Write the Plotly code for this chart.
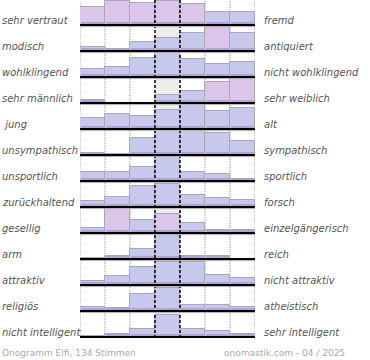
import plotly.graph_objects as go

left_labels = ["sehr vertraut", "modisch", "wohlklingend", "sehr männlich", " jung",
               "unsympathisch", "unsportlich", "zurückhaltend", "gesellig", "arm",
               "attraktiv", "religiös", "nicht intelligent"]
right_labels = ["fremd", "antiquiert", "nicht wohlklingend", "sehr weiblich", "alt",
                "sympathisch", "sportlich", "forsch", "einzelgängerisch", "reich",
                "nicht attraktiv", "atheistisch", "sehr intelligent"]

r_sehr_vertraut = [18.3, 24, 22.3, 24.3, 20.7, 13.3, 13.3]
r_modisch = [4.3, 2.3, 8.7, 12.7, 17.7, 24.3, 17.7]
r_wohlklingend = [8, 9.7, 19, 24, 18, 13, 15]
r_maennlich = [3.3, 0, 0, 8.3, 11.7, 21, 24.5]
r_jung = [11, 15, 13.3, 19.3, 24.3, 18.3, 21]
r_unsympathisch = [2.3, 1.3, 16.7, 24, 24, 22.3, 14.3]
r_unsportlich = [8.7, 8.7, 14.3, 23.7, 9.3, 7, 2]
r_zurueckhaltend = [5.7, 10, 20.7, 23.3, 11.7, 9, 6.7]
r_gesellig = [5, 24, 13.3, 19, 10, 3.3, 3.3]
r_arm = [1, 2.7, 10, 24, 2.7, 2.7, 0.5]
r_attraktiv = [4, 9, 17.7, 23.3, 23.3, 10, 7.3]
r_religioes = [4, 3, 17.3, 23, 5.7, 6.3, 4]
r_intelligent = [1, 3.3, 8.3, 22.3, 8.3, 5.7, 2.7]

rows = [r_sehr_vertraut, r_modisch, r_wohlklingend, r_maennlich, r_jung, r_unsympathisch,
        r_unsportlich, r_zurueckhaltend, r_gesellig, r_arm, r_attraktiv, r_religioes, r_intelligent]

# (row, column) cells drawn in the pink tone
pink_cells = [(0, 0), (0, 1), (0, 2), (0, 3), (0, 4), (1, 5), (3, 5), (3, 6), (8, 1), (8, 3)]

footer_left = "Onogramm Elfi, 134 Stimmen"
footer_right = "onomastik.com - 04 / 2025"

W, H = 370, 360
ROW_H = 26
N = len(rows)
TOP = N * ROW_H  # 338
MAXH = 24

def base_of(i):
    return TOP - 25 - ROW_H * i

bx, by, bb = [], [], []
px, py, pb = [], [], []
band_x, band_y, band_b = [], [], []
for i, vals in enumerate(rows):
    for j, v in enumerate(vals):
        if (i, j) in pink_cells:
            px.append(j); py.append(v); pb.append(base_of(i))
        else:
            bx.append(j); by.append(v); bb.append(base_of(i))
        band_x.append(j); band_y.append(min(v, 3)); band_b.append(base_of(i))

fig = go.Figure()
# grey background of the centre column
fig.add_trace(go.Bar(x=[3] * N, y=[MAXH] * N, base=[base_of(i) for i in range(N)],
                     width=1, marker=dict(color="#ededed", line=dict(width=0)),
                     hoverinfo="skip"))
fig.add_trace(go.Bar(x=bx, y=by, base=bb, width=1,
                     marker=dict(color="#c6c9ec", line=dict(color="#a8a8b4", width=1))))
fig.add_trace(go.Bar(x=px, y=py, base=pb, width=1,
                     marker=dict(color="#dbc6e9", line=dict(color="#a8a8b4", width=1))))
fig.add_trace(go.Bar(x=band_x, y=band_y, base=band_b, width=0.96,
                     marker=dict(color="#b0a4d6", line=dict(width=0)), hoverinfo="skip"))

shapes = []
for xv in [-0.5, 0.5, 1.5, 4.5, 5.5, 6.5]:
    shapes.append(dict(type="line", x0=xv, x1=xv, y0=0, y1=TOP, layer="below",
                       line=dict(color="#999999", width=1, dash="1px,1px")))
for xv in [2.5, 3.5]:
    shapes.append(dict(type="line", x0=xv, x1=xv, y0=0, y1=TOP, layer="above",
                       line=dict(color="#000000", width=1.5, dash="3px,2px")))
for i in range(N):
    b = base_of(i)
    shapes.append(dict(type="line", x0=-0.5, x1=6.5, y0=b - 1.6, y1=b - 1.6, layer="above",
                       line=dict(color="#b0b0b0", width=1)))
    shapes.append(dict(type="line", x0=-0.5, x1=6.5, y0=b, y1=b, layer="above",
                       line=dict(color="#000000", width=2)))

annotations = []
lab_font = dict(family="DejaVu Sans", size=10, color="#555555", style="italic")
for i in range(N):
    b = base_of(i)
    annotations.append(dict(text=left_labels[i], xref="paper", x=0.0, xanchor="left",
                            yref="y", y=b + 4.5, yanchor="middle", showarrow=False,
                            font=lab_font))
    annotations.append(dict(text=right_labels[i], xref="paper", x=262 / W, xanchor="left",
                            yref="y", y=b + 4.5, yanchor="middle", showarrow=False,
                            font=lab_font))
foot_font = dict(family="DejaVu Sans", size=9, color="#aaaaaa")
annotations.append(dict(text=footer_left, xref="paper", x=0.0, xanchor="left",
                        yref="paper", y=7.5 / H, yanchor="middle", showarrow=False, font=foot_font))
annotations.append(dict(text=footer_right, xref="paper", x=347 / W, xanchor="right",
                        yref="paper", y=7.5 / H, yanchor="middle", showarrow=False, font=foot_font))

fig.update_layout(
    width=W, height=H, margin=dict(l=0, r=0, t=0, b=0),
    paper_bgcolor="white", plot_bgcolor="white",
    barmode="overlay", bargap=0, showlegend=False,
    xaxis=dict(domain=[80 / W, 255 / W], range=[-0.5, 6.5], visible=False, fixedrange=True),
    yaxis=dict(domain=[(H - TOP) / H, 1], range=[0, TOP], visible=False, fixedrange=True),
    shapes=shapes, annotations=annotations,
)
fig.write_html("out.html", config={"displayModeBar": False},
               post_script="document.body.style.margin='0';document.body.style.overflow='hidden';")
